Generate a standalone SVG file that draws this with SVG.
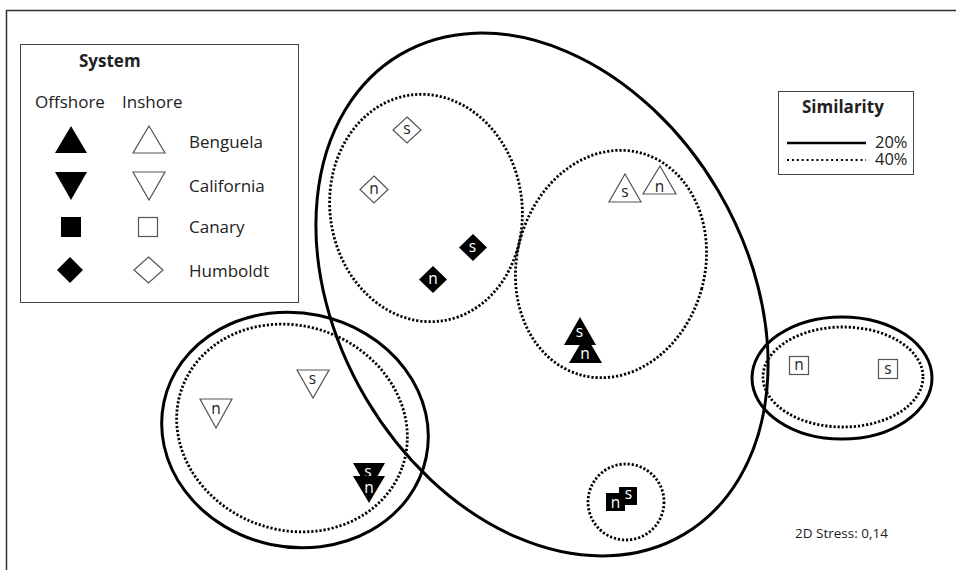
<svg xmlns="http://www.w3.org/2000/svg" width="956" height="570" viewBox="0 0 956 570">
<style>
text{font-family:"Open Sans","Liberation Sans",Arial,sans-serif;fill:#222}
.lg{font-size:17px}
.b{font-weight:bold}
.m{font-size:15.5px;text-anchor:middle}
.w{fill:#fff}
.solid{fill:none;stroke:#000;stroke-width:3}
.dot{fill:none;stroke:#000;stroke-width:2.8;stroke-dasharray:2.2 1.9}
.open{fill:#fff;stroke:#555;stroke-width:1.2}
.fill{fill:#000;stroke:none}
</style>
<rect x="0" y="0" width="956" height="570" fill="#fff"/>
<path d="M6.5,570 V10.5 H956" fill="none" stroke="#333" stroke-width="1.5"/>

<g id="clusters">
<ellipse class="solid" cx="0" cy="0" rx="278.7" ry="204.5" transform="translate(542 294.5) rotate(59.4)"/>
<ellipse class="dot" cx="0" cy="0" rx="96" ry="114" transform="translate(426 208) rotate(-8)"/>
<ellipse class="dot" cx="0" cy="0" rx="94" ry="115" transform="translate(611 264) rotate(15)"/>
<ellipse class="solid" cx="0" cy="0" rx="134" ry="117" transform="translate(295 430) rotate(12)"/>
<ellipse class="dot" cx="0" cy="0" rx="117" ry="102" transform="translate(292 428) rotate(20)"/>
<ellipse class="solid" cx="842" cy="378" rx="90" ry="61"/>
<ellipse class="dot" cx="843" cy="377" rx="80" ry="50"/>
<circle class="dot" cx="626" cy="502" r="38"/>
</g>

<g id="connectors"></g>

<g id="humboldt-in-s"><polygon class="open" points="407,117 421,130 407,143 393,130"/><text class="m" x="407" y="134">s</text></g>
<g id="humboldt-in-n"><polygon class="open" points="374,176 388,189.5 374,203 360,189.5"/><text class="m" x="374" y="193.5">n</text></g>
<g id="humboldt-off-s"><polygon class="fill" points="473,234 487,247.5 473,261 459,247.5"/><text class="m w" x="472.5" y="252">s</text></g>
<g id="humboldt-off-n"><polygon class="fill" points="433,266 447,279.5 433,293 419,279.5"/><text class="m w" x="433" y="284">n</text></g>

<g id="benguela-in-s"><polygon class="open" points="625,174 641,202 609,202"/><text class="m" x="625" y="197">s</text></g>
<g id="benguela-in-n"><polygon class="open" points="660,166 676,194 643,194"/><text class="m" x="659.5" y="192">n</text></g>
<g id="benguela-off-s"><polygon class="fill" points="580,317 596,345 564,345"/><text class="m w" x="579.5" y="337">s</text></g>
<g id="benguela-off-n"><polygon class="fill" points="585.5,335 602,363 569,363"/><text class="m w" x="585" y="359">n</text></g>

<g id="california-in-s"><polygon class="open" points="297,370 329,370 313,398"/><text class="m" x="312.5" y="384">s</text></g>
<g id="california-in-n"><polygon class="open" points="200,399 232,399 216,428"/><text class="m" x="216" y="414">n</text></g>
<g id="california-off-s"><polygon class="fill" points="353,463 385,463 369,491"/><text class="m w" x="368" y="476.5">s</text></g>
<g id="california-off-n"><polygon class="fill" points="353,476 385,476 369,503"/><text class="m w" x="369" y="492.5">n</text></g>

<g id="canary-off-s"><rect class="fill" x="619" y="487" width="18" height="18"/><text class="m w" x="628.5" y="499">s</text></g>
<g id="canary-off-n"><rect class="fill" x="606" y="493" width="19" height="18"/><text class="m w" x="615.5" y="507.5">n</text></g>
<g id="canary-in-n"><rect class="open" x="789.5" y="356.5" width="19" height="18"/><text class="m" x="799" y="370">n</text></g>
<g id="canary-in-s"><rect class="open" x="878.5" y="359.5" width="19" height="19"/><text class="m" x="888" y="373.5">s</text></g>

<g id="legend-system">
<rect x="20.5" y="44.5" width="278" height="258" fill="none" stroke="#444" stroke-width="1"/>
<text class="lg b" x="79" y="67">System</text>
<text class="lg" x="35" y="108">Offshore</text>
<text class="lg" x="122" y="108">Inshore</text>
<polygon class="fill" points="71,126 87,153 55,153"/>
<polygon class="open" points="149,126 165,153 133,153"/>
<text class="lg" x="189" y="148">Benguela</text>
<polygon class="fill" points="55,172 87,172 71,200"/>
<polygon class="open" points="133,172 165,172 149,200"/>
<text class="lg" x="189" y="192">California</text>
<rect class="fill" x="61" y="217" width="20" height="20"/>
<rect class="open" x="138.5" y="217.5" width="19" height="19"/>
<text class="lg" x="189" y="233">Canary</text>
<polygon class="fill" points="70,257 83,270 70,283 57,270"/>
<polygon class="open" points="148.5,257 163,270 148.5,283 134,270"/>
<text class="lg" x="189" y="277">Humboldt</text>
</g>

<g id="legend-similarity">
<rect x="778.5" y="91.5" width="135" height="83" fill="none" stroke="#444" stroke-width="1"/>
<text class="lg b" x="802" y="113">Similarity</text>
<line x1="787" y1="143" x2="866" y2="143" stroke="#000" stroke-width="2.5"/>
<text x="875" y="148" font-size="16.5">20%</text>
<line x1="787" y1="160" x2="866" y2="160" stroke="#000" stroke-width="2" stroke-dasharray="2 2.9"/>
<text x="875" y="165" font-size="16.5">40%</text>
</g>

<text x="795" y="538" font-size="13.5">2D Stress: 0,14</text>
</svg>
